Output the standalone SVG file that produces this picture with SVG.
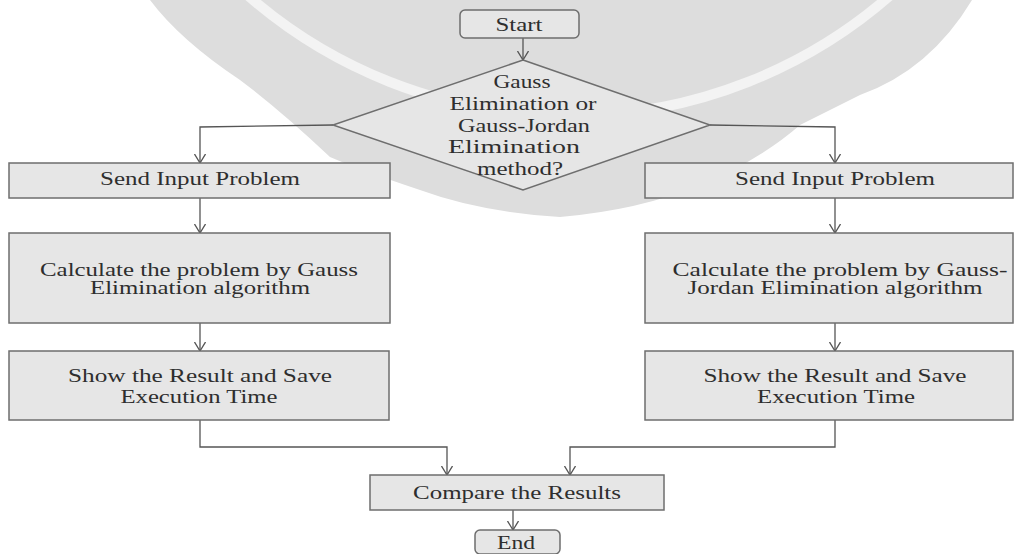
<svg xmlns="http://www.w3.org/2000/svg" width="1015" height="554" viewBox="0 0 1015 554">
<style>
.box{fill:#e6e6e6;stroke:#6e6e6e;stroke-width:1.5}
.t{font-family:"Liberation Serif","Times New Roman",serif;font-size:18px;fill:#2e2e2e;text-anchor:middle}
.c{fill:none;stroke:#555;stroke-width:1.3}
</style>
<defs>
<marker id="arr" viewBox="0 0 10 12" refX="9.5" refY="6" markerWidth="10" markerHeight="12" markerUnits="userSpaceOnUse" orient="auto">
<path d="M0.5,0.5 L9.5,6 L0.5,11.5" fill="none" stroke="#555" stroke-width="1.3"/>
</marker>
</defs>
<rect width="1015" height="554" fill="#fff"/>
<g id="watermark">
<path d="M150,0 L972,0 Q930,70 860,95 L800,125 Q760,160 700,185 Q640,210 560,217 Q480,212 420,190 Q360,170 330,157 Q280,110 240,80 Q180,40 150,0 Z" fill="#dddddd"/>
<circle cx="569" cy="-372" r="488" fill="none" stroke="#f3f3f3" stroke-width="10"/>
</g>
<g id="connectors">
<line class="c" x1="523" y1="38" x2="523" y2="60" marker-end="url(#arr)"/>
<polyline class="c" points="333,125 200,127 200,163" marker-end="url(#arr)"/>
<polyline class="c" points="710,125 835,127 835,163" marker-end="url(#arr)"/>
<line class="c" x1="200" y1="198" x2="200" y2="233" marker-end="url(#arr)"/>
<line class="c" x1="835" y1="198" x2="835" y2="233" marker-end="url(#arr)"/>
<line class="c" x1="200" y1="323" x2="200" y2="351" marker-end="url(#arr)"/>
<line class="c" x1="835" y1="323" x2="835" y2="351" marker-end="url(#arr)"/>
<polyline class="c" points="200,420 200,447 447,447 447,475" marker-end="url(#arr)"/>
<polyline class="c" points="835,420 835,447 570,447 570,475" marker-end="url(#arr)"/>
<line class="c" x1="513" y1="510" x2="513" y2="530" marker-end="url(#arr)"/>
</g>
<g id="start">
<rect class="box" x="460" y="10" width="119" height="28" rx="5"/>
<text class="t" x="519" y="31" textLength="47" lengthAdjust="spacingAndGlyphs">Start</text>
</g>
<g id="decision">
<polygon class="box" points="523,60 710,125 523,190 333,125"/>
<text class="t" x="522" y="88" textLength="57" lengthAdjust="spacingAndGlyphs">Gauss</text>
<text class="t" x="523" y="110" textLength="147" lengthAdjust="spacingAndGlyphs">Elimination or</text>
<text class="t" x="524" y="132" textLength="132" lengthAdjust="spacingAndGlyphs">Gauss-Jordan</text>
<text class="t" x="514" y="153" textLength="132" lengthAdjust="spacingAndGlyphs">Elimination</text>
<text class="t" x="520" y="175" textLength="86" lengthAdjust="spacingAndGlyphs">method?</text>
</g>
<g id="send-left">
<rect class="box" x="9" y="163" width="381" height="35"/>
<text class="t" x="200" y="185" textLength="200" lengthAdjust="spacingAndGlyphs">Send Input Problem</text>
</g>
<g id="send-right">
<rect class="box" x="645" y="163" width="368" height="35"/>
<text class="t" x="835" y="185" textLength="200" lengthAdjust="spacingAndGlyphs">Send Input Problem</text>
</g>
<g id="calc-left">
<rect class="box" x="9" y="233" width="381" height="90"/>
<text class="t" x="199" y="276" textLength="318" lengthAdjust="spacingAndGlyphs">Calculate the problem by Gauss</text>
<text class="t" x="200" y="294" textLength="220" lengthAdjust="spacingAndGlyphs">Elimination algorithm</text>
</g>
<g id="calc-right">
<rect class="box" x="645" y="233" width="368" height="90"/>
<text class="t" x="840" y="276" textLength="335" lengthAdjust="spacingAndGlyphs">Calculate the problem by Gauss-</text>
<text class="t" x="835" y="294" textLength="295" lengthAdjust="spacingAndGlyphs">Jordan Elimination algorithm</text>
</g>
<g id="show-left">
<rect class="box" x="9" y="351" width="380" height="69"/>
<text class="t" x="200" y="382" textLength="264" lengthAdjust="spacingAndGlyphs">Show the Result and Save</text>
<text class="t" x="199" y="403" textLength="157" lengthAdjust="spacingAndGlyphs">Execution Time</text>
</g>
<g id="show-right">
<rect class="box" x="645" y="351" width="368" height="69"/>
<text class="t" x="835" y="382" textLength="263" lengthAdjust="spacingAndGlyphs">Show the Result and Save</text>
<text class="t" x="836" y="403" textLength="158" lengthAdjust="spacingAndGlyphs">Execution Time</text>
</g>
<g id="compare">
<rect class="box" x="370" y="475" width="294" height="35"/>
<text class="t" x="517" y="499" textLength="208" lengthAdjust="spacingAndGlyphs">Compare the Results</text>
</g>
<g id="end">
<rect class="box" x="475" y="530" width="85" height="24" rx="5"/>
<text class="t" x="516" y="549" textLength="38" lengthAdjust="spacingAndGlyphs">End</text>
</g>
</svg>
